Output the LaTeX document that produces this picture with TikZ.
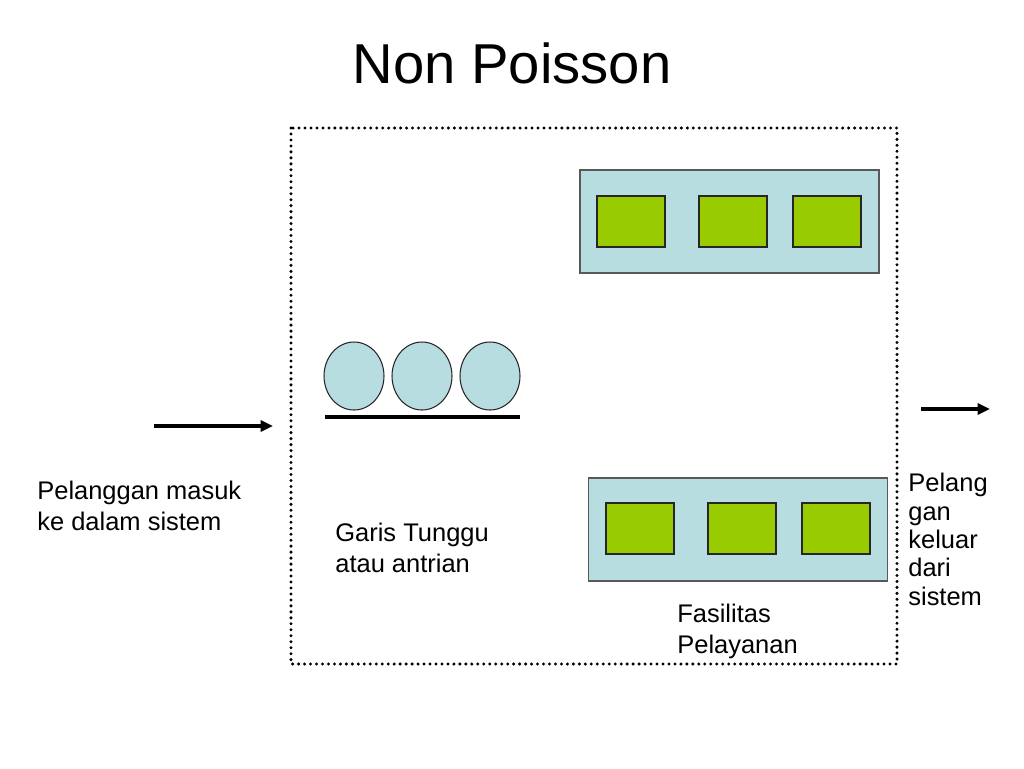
\documentclass[tikz,border=0pt]{standalone}
\usepackage{fontspec}
\setmainfont{Liberation Sans}
\usetikzlibrary{arrows.meta,shapes.geometric}
\definecolor{queueblue}{RGB}{183,221,224}
\definecolor{servegreen}{RGB}{153,204,0}
\tikzset{
  labeltext/.style={anchor=base west,align=left,inner sep=0pt,
    font=\fontsize{14.5}{17.1}\selectfont},
  customer/.style={ellipse,draw=black!85,fill=queueblue,line width=0.6pt,
    minimum width=1.2cm,minimum height=1.36cm,inner sep=0pt},
  server/.style={draw=black!85,fill=servegreen,line width=0.6pt,
    minimum width=1.36cm,minimum height=1.02cm,inner sep=0pt},
  facility/.style={draw=black!65,fill=queueblue,line width=0.8pt,
    minimum width=5.98cm,minimum height=2.06cm,inner sep=0pt},
  flow/.style={line width=2pt,-{Triangle[length=0.25cm,width=0.22cm]}}
}
\begin{document}
\begin{tikzpicture}[x=0.02cm,y=-0.02cm]
\useasboundingbox (0,0) rectangle (1024,768);
% title
\node[anchor=base,inner sep=0pt,font=\fontsize{32}{38}\selectfont] (title) at (512,83) {Non Poisson};
% system boundary
\draw[line width=1.9pt,line cap=round,dash pattern=on 0pt off 3.4pt] (291,128) rectangle (897,664);
% service facilities
\node[facility] (top) at (729.5,221.5) {};
\node[server] (s1) at (631,221.5) {};
\node[server] (s2) at (733,221.5) {};
\node[server] (s3) at (827,221.5) {};
\node[facility] (bottom) at (738,529.5) {};
\node[server] (s4) at (640,528.5) {};
\node[server] (s5) at (742,528.5) {};
\node[server] (s6) at (836,528.5) {};
% waiting line
\node[customer] (c1) at (354,376) {};
\node[customer] (c2) at (422,376) {};
\node[customer] (c3) at (490,376) {};
\coordinate (qa) at (325,417);
\coordinate (qb) at (520,417);
\draw[line width=2pt] (qa) -- (qb);
% arrivals and departures
\coordinate (ina) at (154,426);
\coordinate (inb) at (273,426);
\draw[flow] (ina) -- (inb);
\coordinate (outa) at (921,409);
\coordinate (outb) at (990,409);
\draw[flow] (outa) -- (outb);
% labels (base = last line)
\node[labeltext] (masuk) at (37,530) {Pelanggan masuk\\ke dalam sistem};
\node[labeltext] (garis) at (335,572) {Garis Tunggu\\atau antrian};
\node[labeltext] (fasilitas) at (677,653) {Fasilitas\\Pelayanan};
\node[labeltext,font=\fontsize{14.5}{16.1}\selectfont] (keluar) at (908,605) {Pelang\\gan\\keluar\\dari\\sistem};
\end{tikzpicture}
\end{document}
